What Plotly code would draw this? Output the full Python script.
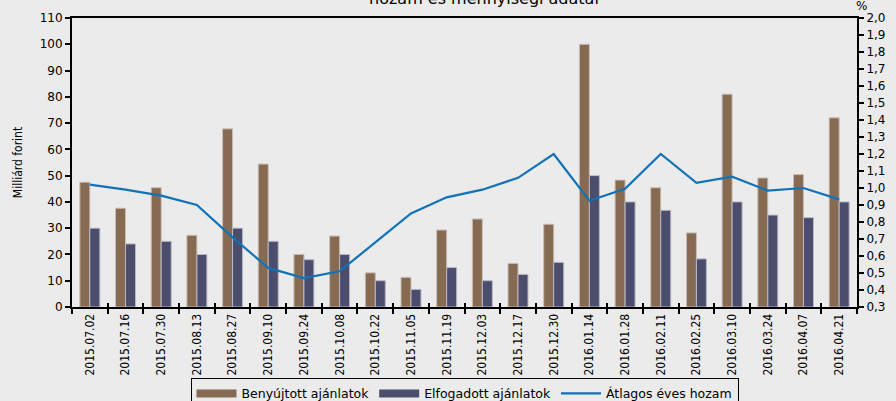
import plotly.graph_objects as go

dates = ["2015.07.02", "2015.07.16", "2015.07.30", "2015.08.13", "2015.08.27",
         "2015.09.10", "2015.09.24", "2015.10.08", "2015.10.22", "2015.11.05",
         "2015.11.19", "2015.12.03", "2015.12.17", "2015.12.30", "2016.01.14",
         "2016.01.28", "2016.02.11", "2016.02.25", "2016.03.10", "2016.03.24",
         "2016.04.07", "2016.04.21"]
benyujtott = [47.5, 37.6, 45.4, 27.3, 67.8, 54.4, 20, 27, 13, 11.3, 29.3,
              33.5, 16.6, 31.5, 100, 48.3, 45.4, 28.2, 81, 49.1, 50.4, 72]
elfogadott = [30, 24, 25, 20, 30, 25, 18, 20, 10, 6.7, 15,
              10, 12.4, 17, 50, 40, 36.8, 18.3, 40, 35, 34, 40]
hozam = [1.02, 0.99, 0.955, 0.90, 0.71, 0.53, 0.47, 0.51, 0.68, 0.85, 0.945,
         0.99, 1.06, 1.20, 0.925, 0.995, 1.20, 1.03, 1.067, 0.985, 1.0, 0.933]

BG = "#EBEBEB"
BROWN = "#876A52"
NAVY = "#4C4C6C"
BLUE = "#1173B5"
NARROW = "Liberation Sans Narrow, DejaVu Sans Condensed, Arial Narrow, sans-serif"
VERD = "DejaVu Sans, Verdana, sans-serif"

fig = go.Figure()
fig.add_trace(go.Bar(x=dates, y=benyujtott, name="Benyújtott ajánlatok", showlegend=False,
                     marker=dict(color=BROWN, line=dict(color="#C8BDB5", width=1))))
fig.add_trace(go.Bar(x=dates, y=elfogadott, name="Elfogadott ajánlatok", showlegend=False,
                     marker=dict(color=NAVY, line=dict(color="#B8B8C8", width=1))))
fig.add_trace(go.Scatter(x=dates, y=hozam, name="Átlagos éves hozam",
                         xaxis="x2", yaxis="y2",
                         mode="lines", showlegend=False,
                         line=dict(color=BLUE, width=2.2)))
# legend-only entries (wide rectangular swatches as in the original)
for nm, col, w in [("Benyújtott ajánlatok", BROWN, 8), ("Elfogadott ajánlatok", NAVY, 8),
                   ("Átlagos éves hozam", BLUE, 2.2)]:
    fig.add_trace(go.Scatter(x=[None], y=[None], name=nm, mode="lines",
                             line=dict(color=col, width=w), showlegend=True))

tick_common = dict(tickcolor="black", tickwidth=1.5, showgrid=False, zeroline=False,
                   automargin=False)

fig.update_layout(
    width=896, height=401,
    margin=dict(l=72, r=39, t=18, b=94, autoexpand=False),
    paper_bgcolor=BG, plot_bgcolor=BG,
    separators=", ",
    barmode="group", bargap=0.44, bargroupgap=0,
    legend=dict(orientation="h", x=0.5, xanchor="center", y=-0.245, yanchor="top",
                bordercolor="black", borderwidth=1, bgcolor=BG,
                font=dict(family=VERD, size=12.5, color="black"),
                itemwidth=40, tracegroupgap=0),
    xaxis=dict(type="category", showline=True, linecolor="black", linewidth=2,
               mirror=True, ticks="outside", tickson="boundaries", ticklen=5,
               tickangle=-90,
               tickfont=dict(family=NARROW, size=12, color="black"), **tick_common),
    xaxis2=dict(type="category", overlaying="x", matches="x", side="bottom",
                anchor="y", showline=False, ticks="inside", tickson="boundaries",
                ticklen=4, showticklabels=False, **tick_common),
    yaxis=dict(range=[0, 110], dtick=10, tick0=0, showline=True, linecolor="black",
               linewidth=2, ticks="outside", ticklen=5,
               tickfont=dict(family=VERD, size=12, color="black"),
               title=dict(text="Milliárd forint", standoff=14,
                          font=dict(family=NARROW, size=12, color="black")),
               **tick_common),
    yaxis3=dict(range=[0, 110], dtick=10, tick0=0, overlaying="y", side="left",
                anchor="x", showline=False, ticks="inside", ticklen=4,
                showticklabels=False, **tick_common),
    yaxis2=dict(range=[0.3, 2.0], dtick=0.1, tick0=0.3, tickformat=".1f",
                overlaying="y", side="right", anchor="x2", showline=True,
                linecolor="black", linewidth=2, ticks="outside", ticklen=5,
                tickfont=dict(family=VERD, size=12, color="black"), **tick_common),
    yaxis4=dict(range=[0.3, 2.0], dtick=0.1, tick0=0.3, overlaying="y", side="right",
                anchor="x2", showline=False, ticks="inside", ticklen=4,
                showticklabels=False, **tick_common),
    annotations=[
        dict(text="hozam és mennyiségi adatai", xref="paper", yref="paper",
             x=0.525, y=1, xanchor="center", yanchor="bottom", yshift=8,
             showarrow=False, font=dict(family=VERD, size=16, color="black")),
        dict(text="%", xref="paper", yref="paper", x=1.006, y=1, xanchor="center",
             yanchor="bottom", yshift=3, showarrow=False,
             font=dict(family=VERD, size=12, color="black")),
    ],
)

fig.write_html("out.html", config={"displayModeBar": False},
               post_script="document.body.style.margin='0';document.body.style.padding='0';")
